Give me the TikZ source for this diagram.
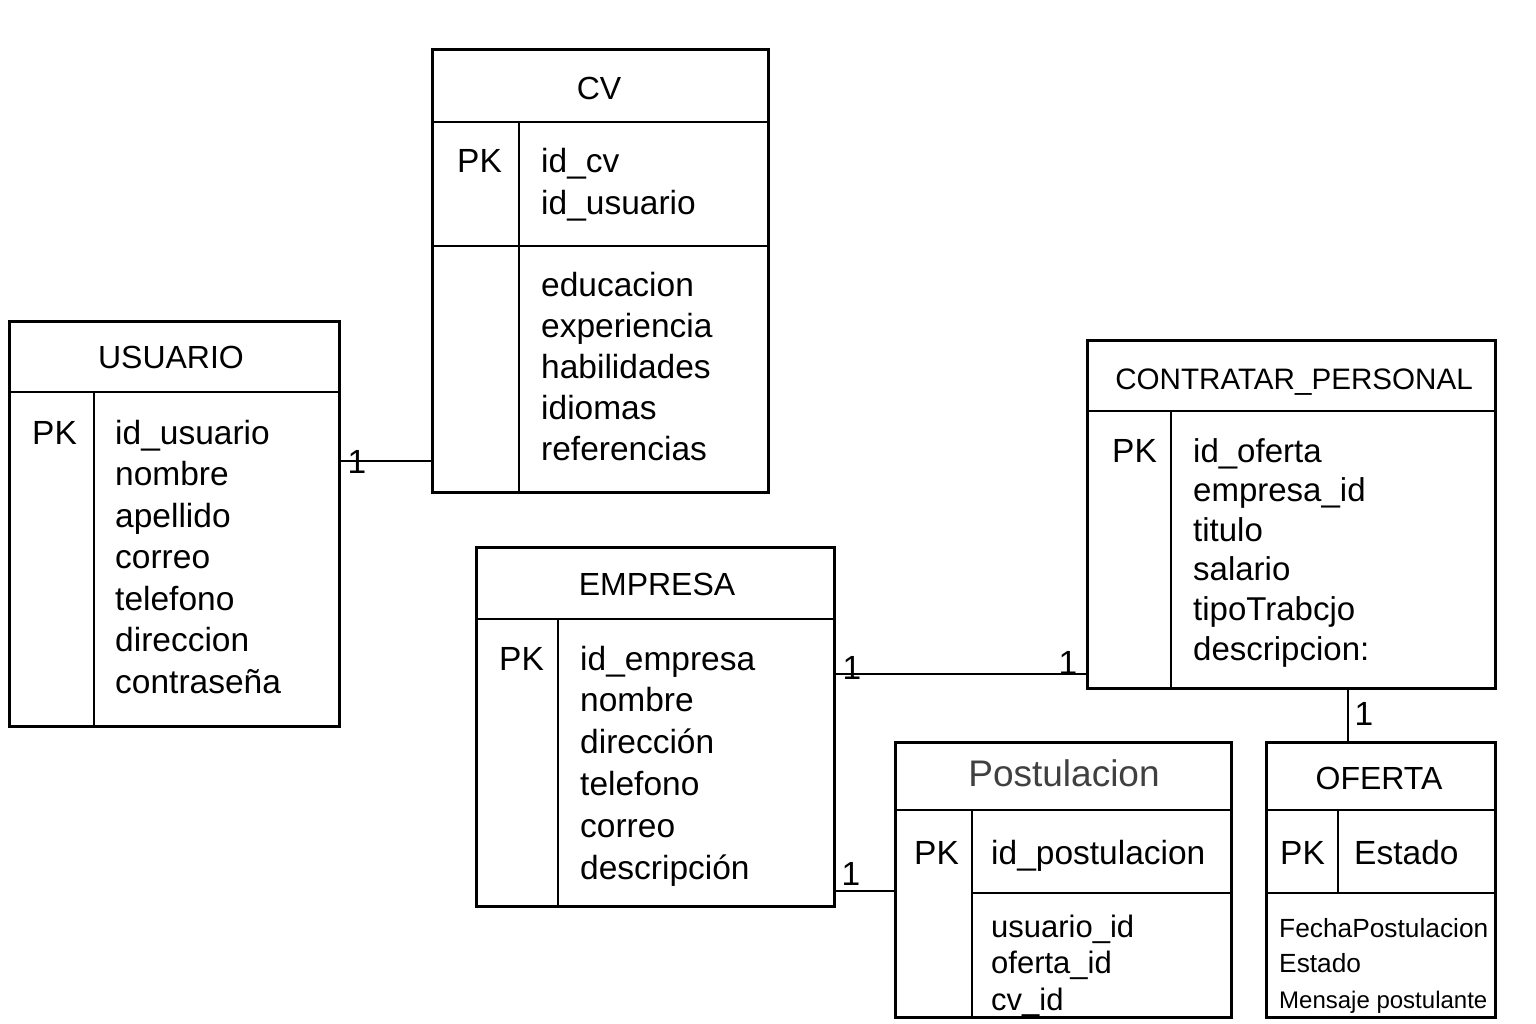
\documentclass[tikz,border=0pt]{standalone}
\usepackage{fontspec}
\setmainfont{Liberation Sans}
\usepackage{tikz}
\usetikzlibrary{positioning}
\newcommand{\attrfont}{\fontsize{33.5}{41.5}\selectfont}
\newcommand{\ttlfont}{\fontsize{32}{38}\selectfont}
\tikzstyle{tbox} = [draw, line width=2.6pt, inner sep=0pt, anchor=north west]
\tikzstyle{line} = [draw, line width=2.6pt]
\tikzstyle{ttl} = [inner sep=0pt, anchor=base, font=\ttlfont]
\tikzstyle{attr} = [inner sep=0pt, anchor=base west, align=left, font=\attrfont]
\tikzstyle{card} = [inner sep=0pt, anchor=base, font=\attrfont]

\begin{document}
\begin{tikzpicture}[x=1pt, y=-1pt]
			\useasboundingbox (0,0) rectangle (1536,1024);

			\node [tbox, minimum width=330pt, minimum height=405pt] (usuario) at (8,320) {};
			\node [tbox, minimum width=336pt, minimum height=443pt] (cv) at (431,48) {};
			\node [tbox, minimum width=358pt, minimum height=359pt] (empresa) at (475,546) {};
			\node [tbox, minimum width=408pt, minimum height=348pt] (contratar) at (1086,339) {};
			\node [tbox, minimum width=336pt, minimum height=275pt] (postulacion) at (894,741) {};
			\node [tbox, minimum width=229pt, minimum height=275pt] (oferta) at (1265,741) {};

			\path [line] (8,392) -- (338,392);
			\path [line] (94,392) -- (94,725);
			\path [line] (431,122) -- (767,122);
			\path [line] (431,246) -- (767,246);
			\path [line] (519,122) -- (519,491);
			\path [line] (475,619) -- (833,619);
			\path [line] (558,619) -- (558,905);
			\path [line] (1086,411) -- (1494,411);
			\path [line] (1171,411) -- (1171,687);
			\path [line] (894,810) -- (1230,810);
			\path [line] (972,893) -- (1230,893);
			\path [line] (972,810) -- (972,1016);
			\path [line] (1265,810) -- (1494,810);
			\path [line] (1265,893) -- (1494,893);
			\path [line] (1338,810) -- (1338,893);

			\node [ttl] (usuario-t) at (171,368) {USUARIO};
			\node [attr] (usuario-pk) at (32,444) {PK};
			\node [attr] (usuario-a) at (115,693) {id\_usuario\\nombre\\apellido\\correo\\telefono\\direccion\\contraseña};

			\node [ttl] (cv-t) at (599,100) {CV};
			\node [attr] (cv-pk) at (457,173) {PK};
			\node [attr, font=\fontsize{33.5}{42}\selectfont] (cv-k) at (541,215) {id\_cv\\id\_usuario};
			\node [attr, font=\fontsize{33.5}{40.8}\selectfont] (cv-a) at (541,460) {educacion\\experiencia\\habilidades\\idiomas\\referencias};

			\node [ttl] (empresa-t) at (657,595) {EMPRESA};
			\node [attr] (empresa-pk) at (499,670) {PK};
			\node [attr, font=\fontsize{33.5}{41.8}\selectfont] (empresa-a) at (580,879) {id\_empresa\\nombre\\dirección\\telefono\\correo\\descripción};

			\node [ttl, font=\fontsize{29.6}{36}\selectfont] (contratar-t) at (1294,389) {CONTRATAR\_PERSONAL};
			\node [attr] (contratar-pk) at (1112,462) {PK};
			\node [attr, font=\fontsize{33}{39.6}\selectfont] (contratar-a) at (1193,660) {id\_oferta\\empresa\_id\\titulo\\salario\\tipoTrabcjo\\descripcion:};

			\node [ttl, font=\fontsize{37}{42}\selectfont, text=black!75] (postulacion-t) at (1064,786) {Postulacion};
			\node [attr] (postulacion-pk) at (914,864) {PK};
			\node [attr] (postulacion-k) at (991,864) {id\_postulacion};
			\node [attr, font=\fontsize{31}{36.5}\selectfont] (postulacion-a) at (991,1010) {usuario\_id\\oferta\_id\\cv\_id};

			\node [ttl] (oferta-t) at (1379,789) {OFERTA};
			\node [attr] (oferta-pk) at (1280,864) {PK};
			\node [attr] (oferta-k) at (1354,864) {Estado};
			\node [attr, font=\fontsize{26.3}{35.5}\selectfont] (oferta-a) at (1279,1008) {FechaPostulacion\\Estado\\{\fontsize{24}{35.5}\selectfont Mensaje postulante}};

			\path [line] (usuario.east |- 0,461) -- (cv.west |- 0,461);
			\path [line] (empresa.east |- 0,674) -- (contratar.west |- 0,674);
			\path [line] (empresa.east |- 0,891) -- (postulacion.west |- 0,891);
			\path [line] (contratar.south -| 1348,0) -- (oferta.north -| 1348,0);

			\node [card] (c1) at (357,473) {1};
			\node [card] (c2) at (852,679) {1};
			\node [card] (c3) at (1068,674) {1};
			\node [card] (c4) at (1364,725) {1};
			\node [card] (c5) at (851,885) {1};
		\end{tikzpicture}
\end{document}
